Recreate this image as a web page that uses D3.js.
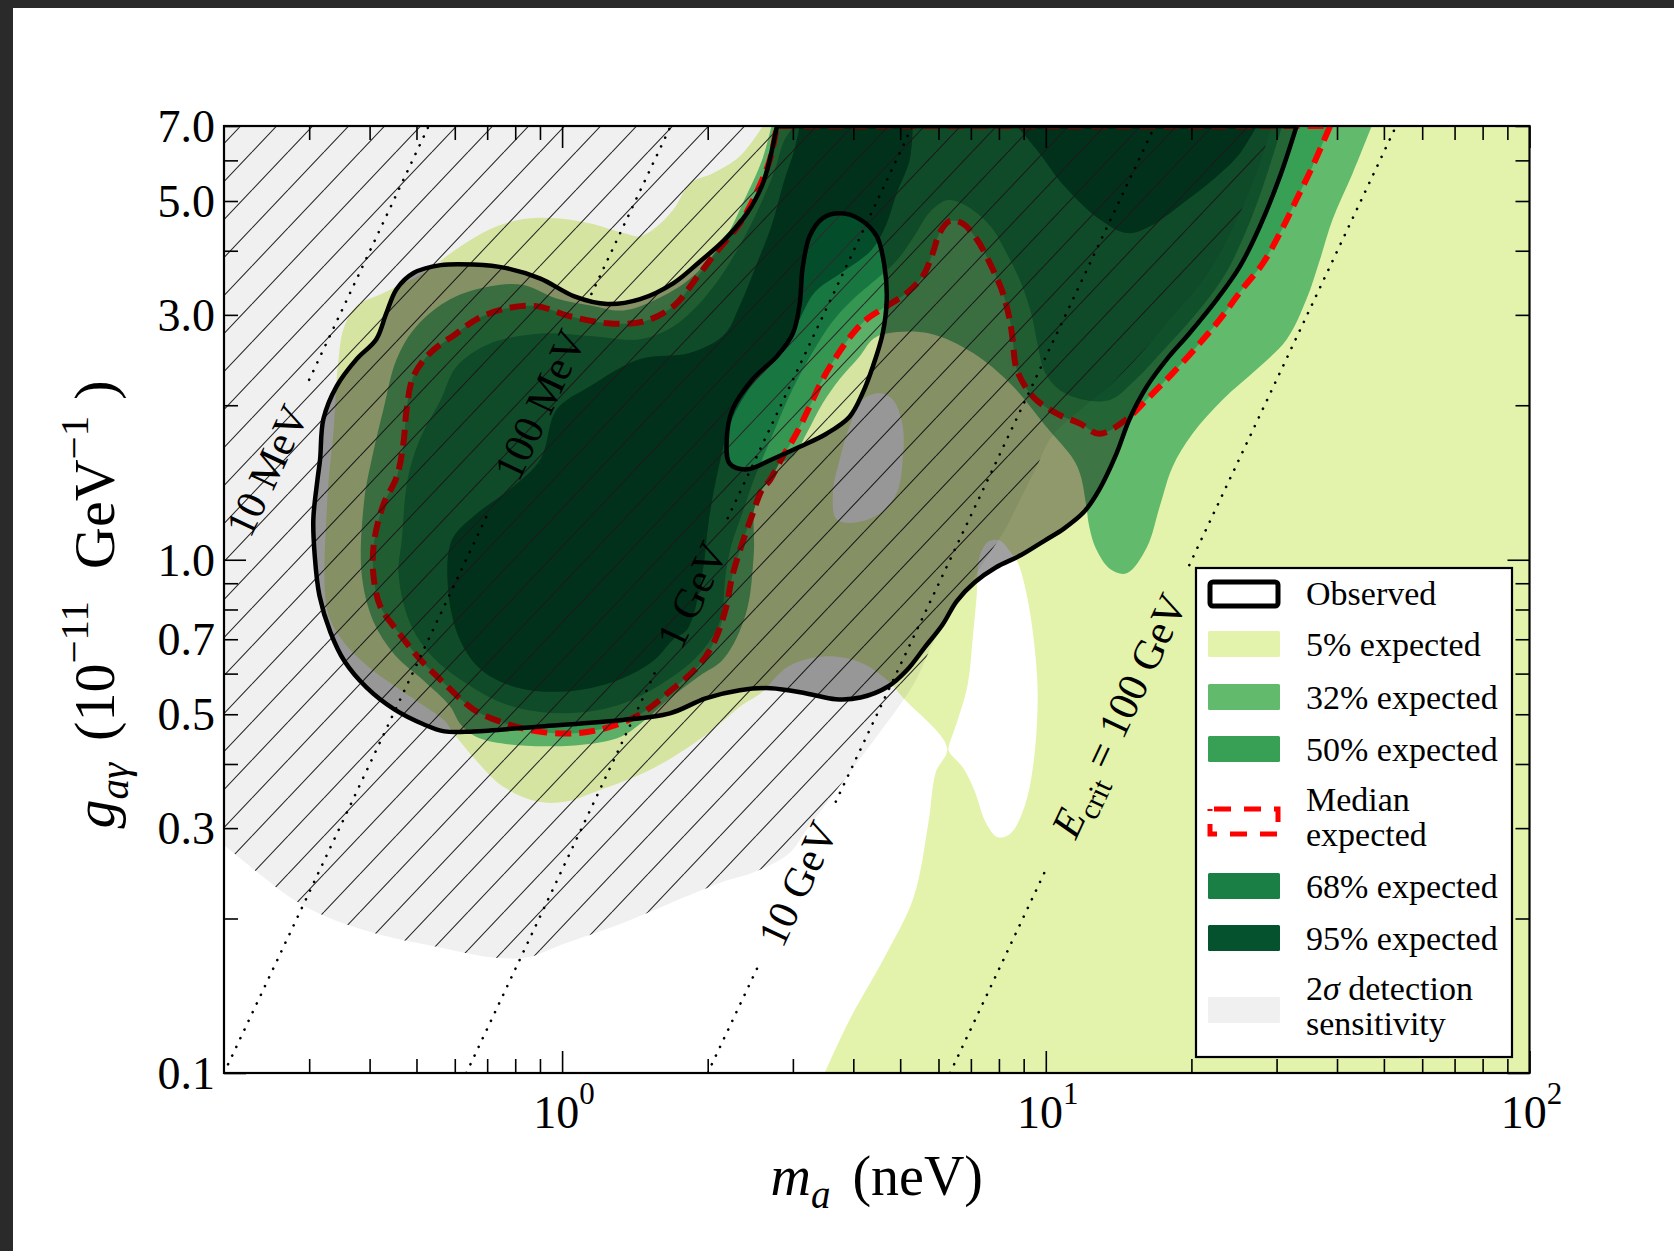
<!DOCTYPE html>
<html>
<head>
<meta charset="utf-8">
<script src="https://cdn.jsdelivr.net/npm/d3@7"></script>
<style>
  body { margin: 0; background: #2a2a2a; }
  svg { display: block; }
  text { font-family: "Liberation Serif", "Times New Roman", serif; fill: #000; }
</style>
</head>
<body>
<svg id="chart" width="1674" height="1251"></svg>
<script>
// ALP coupling vs mass exclusion plot
var width = 1674;
var height = 1251;

// axis ticks
var xMajorTicks = [1, 10, 100];
var xMinorTicks = [0.3, 0.4, 0.5, 0.6, 0.7, 0.8, 0.9, 2, 3, 4, 5, 6, 7, 8, 9, 20, 30, 40, 50, 60, 70, 80, 90];
var yLabelTicks = [0.1, 0.3, 0.5, 0.7, 1.0, 3.0, 5.0, 7.0];
var yMajorTicks = [0.1, 1];
var yMinorTicks = [0.2, 0.3, 0.4, 0.5, 0.6, 0.7, 0.8, 0.9, 2, 3, 4, 5, 6, 7];

// contour outlines, points are [m_a (neV), g (1e-11 GeV^-1)]
// 5% expected: curve runs from the bottom edge round to the top edge, then the plot corners close it
var expected5 = [[3.49,0.1],[3.93,0.127],[4.67,0.170],[5.33,0.220],[5.72,0.308],[5.92,0.385],[6.25,0.430],
  [5.08,0.537],[4.73,0.580],[4.14,0.631],[3.49,0.648],[2.94,0.620],[2.57,0.549],[2.35,0.520],[1.98,0.455],
  [1.54,0.392],[1.19,0.355],[1.02,0.338],[0.89,0.338],[0.753,0.362],[0.656,0.412],[0.593,0.463],[0.571,0.486],
  [0.517,0.520],[0.468,0.554],[0.394,0.623],[0.350,0.700],[0.327,0.797],[0.327,1.31],[0.337,1.79],[0.342,2.25],
  [0.345,2.46],[0.353,2.81],[0.376,3.12],[0.427,3.31],[0.517,3.62],[0.605,4.03],[0.711,4.41],[0.832,4.61],
  [0.974,4.63],[1.145,4.52],[1.34,4.33],[1.45,4.27],[1.57,4.46],[1.70,4.82],[1.84,5.41],[2.05,5.66],[2.33,6.11],[2.6,7]];
var expected5Corners = [[100, 7], [100, 0.1]];

// white gaps inside the 5% region
var gapNotch = [[6.30,0.432],[6.54,0.480],[6.89,0.569],[7.06,0.700],[7.20,0.856],[7.30,1.015],[7.62,1.086],[8.03,1.09],
  [8.46,1.034],[8.75,0.988],[9.13,0.856],[9.44,0.700],[9.62,0.549],[9.44,0.405],[9.04,0.331],[8.46,0.293],[7.95,0.288],
  [7.51,0.308],[7.13,0.354],[6.76,0.392],[6.30,0.424]];
var gapCentre = [[4.54,2.11],[4.83,2.05],[5.06,1.82],[5.06,1.57],[4.92,1.35],[4.54,1.23],[3.99,1.18],[3.69,1.20],
  [3.63,1.35],[3.75,1.57],[3.93,1.82],[4.18,2.05]];

// 32% expected (closed along the top edge)
var expected32 = [[47.2,7],[43.1,5.66],[39.2,4.61],[36.9,3.85],[34.6,3.22],[31.5,2.69],[27.3,2.35],[23.2,2.05],[20.1,1.76],
  [18.3,1.52],[17.2,1.27],[16.2,1.06],[14.7,0.941],[13.6,0.958],[12.7,1.05],[12.3,1.16],[12.1,1.29],[11.8,1.46],[11.4,1.57],
  [10.0,1.82],[8.54,2.18],[7.06,2.53],[5.75,2.76],[4.69,2.76],[4.39,2.69],[4.12,2.49],[3.75,2.25],[3.46,2.02],[3.20,1.76],
  [3.00,1.59],[2.71,1.51],[2.51,1.31],[2.49,1.02],[2.40,0.786],[2.16,0.642],[1.92,0.593],[1.67,0.537],[1.48,0.486],
  [1.30,0.449],[0.920,0.433],[0.675,0.449],[0.619,0.476],[0.585,0.520],[0.517,0.582],[0.450,0.654],[0.407,0.759],
  [0.385,0.941],[0.390,1.31],[0.404,1.57],[0.427,1.96],[0.455,2.46],[0.500,2.85],[0.588,3.22],[0.711,3.41],[0.832,3.43],
  [0.974,3.23],[1.145,3.13],[1.34,3.06],[1.57,3.22],[1.84,3.53],[2.16,4.19],[2.38,5.02],[2.59,6.00],[2.71,7]];

// median expected = 50% contour (closed along the top edge)
var median50 = [[38.7,7],[35.6,5.84],[33.0,5.04],[30.8,4.41],[28.1,3.78],[25.5,3.37],[22.9,2.94],[20.8,2.64],[18.3,2.31],
  [16.4,2.08],[14.7,1.88],[12.9,1.76],[11.8,1.84],[10.5,1.93],[9.40,2.08],[8.71,2.35],[8.54,2.69],[8.42,2.94],[8.15,3.31],
  [7.77,3.68],[7.20,4.21],[6.73,4.52],[6.33,4.57],[6.03,4.33],[5.84,3.96],[5.57,3.57],[5.16,3.31],[4.69,3.12],[4.26,2.94],
  [3.99,2.76],[3.69,2.49],[3.46,2.25],[3.25,1.99],[3.05,1.76],[2.86,1.59],[2.69,1.43],[2.59,1.37],[2.47,1.22],[2.36,1.08],
  [2.25,0.932],[2.18,0.804],[2.07,0.697],[1.92,0.623],[1.67,0.554],[1.46,0.502],[1.25,0.472],[1.06,0.459],[0.890,0.463],
  [0.753,0.482],[0.656,0.511],[0.571,0.574],[0.507,0.642],[0.459,0.722],[0.421,0.811],[0.407,0.941],[0.409,1.09],
  [0.427,1.28],[0.455,1.45],[0.470,1.69],[0.477,1.96],[0.493,2.28],[0.534,2.53],[0.605,2.76],[0.665,2.94],[0.757,3.08],
  [0.885,3.12],[1.04,2.98],[1.24,2.89],[1.47,2.91],[1.70,3.12],[1.90,3.55],[2.09,3.99],[2.33,4.52],[2.52,5.18],[2.69,6.03],[2.78,7]];

// 68% expected (closed along the top edge)
var expected68 = [[30.8,7],[28.4,5.49],[26.0,4.39],[23.4,3.58],[20.3,2.99],[17.5,2.56],[15.3,2.24],[13.6,2.05],[12.0,2.05],
  [10.7,2.14],[9.95,2.32],[9.62,2.62],[9.35,2.99],[8.92,3.43],[8.34,3.92],[7.66,4.48],[6.80,4.91],[6.27,5.02],[5.75,4.75],
  [5.36,4.29],[4.92,3.83],[4.43,3.50],[3.97,3.20],[3.61,2.90],[3.33,2.58],[3.10,2.29],[2.91,2.03],[2.75,1.79],[2.60,1.58],
  [2.47,1.40],[2.35,1.22],[2.24,1.07],[2.18,0.941],[2.12,0.759],[1.92,0.654],[1.61,0.574],[1.30,0.520],[1.00,0.502],
  [0.778,0.520],[0.634,0.574],[0.534,0.654],[0.483,0.759],[0.459,0.941],[0.466,1.09],[0.479,1.43],[0.507,1.71],[0.561,2.05],
  [0.605,2.38],[0.711,2.64],[0.902,2.76],[1.145,2.73],[1.45,2.69],[1.70,2.85],[1.90,3.12],[2.10,3.50],[2.30,4.01],[2.54,4.80],
  [2.75,5.74],[2.88,6.57],[3.02,7]];

// 95% expected, two cores (closed along the top edge)
var core95a = [[5.31,7],[5.23,6.00],[4.92,5.18],[4.67,4.48],[4.36,4.01],[3.84,3.66],[3.33,3.32],[3.05,2.86],[2.76,2.47],
  [2.47,2.19],[2.24,1.87],[2.10,1.49],[2.01,1.19],[1.95,0.941],[1.82,0.735],[1.70,0.700],[1.54,0.634],[1.30,0.582],[1.02,0.554],
  [0.805,0.564],[0.678,0.612],[0.614,0.700],[0.582,0.864],[0.591,1.09],[0.659,1.22],[0.778,1.37],[0.902,1.57],[0.974,1.96],
  [1.145,2.18],[1.45,2.46],[1.84,2.53],[2.16,2.74],[2.33,3.13],[2.52,3.75],[2.71,4.48],[2.88,5.49],[3.02,6.28],[3.10,7]];
var core95b = [[27.3,7],[25.2,6.19],[22.6,5.59],[19.2,4.95],[16.4,4.46],[14.7,4.33],[12.9,4.61],[10.8,5.41],[9.71,6.19],[8.71,7]];

// observed exclusion: outer line (closed along the top edge) and the island inside it
var observedOuter = [[33.0,7],[30.5,5.59],[27.7,4.46],[25.2,3.73],[22.6,3.22],[19.8,2.76],[17.8,2.46],[16.2,2.18],[14.9,1.88],
  [14.0,1.61],[12.9,1.37],[12.0,1.24],[10.9,1.15],[9.95,1.09],[8.87,1.02],[7.88,0.966],[7.13,0.904],[6.54,0.830],[6.12,0.748],
  [5.62,0.675],[5.16,0.609],[4.73,0.567],[4.14,0.539],[3.68,0.535],[3.20,0.549],[2.70,0.562],[2.33,0.557],[1.98,0.537],
  [1.67,0.502],[1.30,0.486],[0.920,0.474],[0.656,0.463],[0.571,0.463],[0.517,0.478],[0.450,0.511],[0.394,0.564],[0.355,0.634],
  [0.332,0.722],[0.315,0.852],[0.308,1.02],[0.306,1.20],[0.312,1.43],[0.316,1.57],[0.321,1.88],[0.342,2.18],[0.376,2.46],
  [0.413,2.69],[0.433,3.02],[0.455,3.37],[0.493,3.62],[0.561,3.75],[0.656,3.76],[0.767,3.70],[0.902,3.53],[1.06,3.26],
  [1.24,3.15],[1.45,3.22],[1.70,3.46],[1.92,3.80],[2.16,4.19],[2.41,4.73],[2.60,5.41],[2.78,7]];
var observedIsland = [[3.75,4.73],[4.12,4.61],[4.47,4.27],[4.64,3.73],[4.69,3.22],[4.60,2.76],[4.39,2.38],[4.18,2.11],[3.93,1.90],
  [3.52,1.76],[3.10,1.66],[2.72,1.57],[2.41,1.50],[2.22,1.54],[2.19,1.72],[2.25,1.96],[2.48,2.25],[2.78,2.49],[3.00,2.76],
  [3.10,3.16],[3.14,3.68],[3.25,4.27],[3.46,4.63]];

// 2 sigma detection sensitivity (hatched), closed through the top-left corner
var sensitivity = [[29.3,7],[27.4,5.74],[25.2,4.73],[23.1,4.01],[20.8,3.43],[18.0,2.93],[15.6,2.50],[13.6,2.19],[11.8,1.96],
  [10.3,1.74],[9.49,1.49],[8.75,1.28],[8.22,1.14],[7.48,0.997],[6.64,0.834],[5.89,0.697],[5.33,0.572],[4.67,0.478],[3.93,0.385],
  [3.20,0.297],[2.95,0.268],[2.49,0.246],[2.16,0.236],[1.67,0.214],[1.30,0.194],[1.00,0.178],[0.848,0.168],[0.715,0.168],
  [0.553,0.176],[0.429,0.185],[0.332,0.200],[0.280,0.217],[0.237,0.244],[0.2,0.278]];
var sensitivityCorners = [[0.2, 7]];

// E_crit guide lines
var ecritNames = ['10 MeV', '100 MeV', '1 GeV', '10 GeV', '100 GeV'];
var ecritLow = [[0.2,0.996],[0.2,0.1],[0.634,0.1],[2.0,0.1],[6.34,0.1]];
var ecritHigh = [[0.530,7],[1.677,7],[5.30,7],[16.8,7],[53.0,7]];
var ecritGap = [[0.2,0.30],[0.70,1.15],[1.56,2.20],[2.55,3.68],[10.1,19.8]];

// colours
var c5 = '#e3f3ab', c32 = '#62ba6d', c50 = '#38a055', c68 = '#1a7f45', c95 = '#04522e', c2s = '#f0f0f0';

// legend
var legendLabels = [['Observed'], ['5% expected'], ['32% expected'], ['50% expected'], ['Median', 'expected'],
  ['68% expected'], ['95% expected'], ['2\u03c3 detection', 'sensitivity']];
var legendKinds = ['line', 'fill', 'fill', 'fill', 'dash', 'fill', 'fill', 'fill'];
var legendColors = ['#000', c5, c32, c50, '#ff0000', c68, c95, c2s];

// ---------------------------------------------------------------
var svg = d3.select('#chart');
svg.append('rect').attr('width', width).attr('height', height).attr('fill', '#2a2a2a');
svg.append('rect').attr('x', 13).attr('y', 8).attr('width', width - 13).attr('height', height - 8).attr('fill', '#fff');

var plotLeft = 224, plotRight = 1529.5, plotTop = 126, plotBottom = 1073;
var x = d3.scaleLog().domain([0.2, 100]).range([plotLeft, plotRight]);
var y = d3.scaleLog().domain([0.1, 7]).range([plotBottom, plotTop]);

var defs = svg.append('defs');
defs.append('clipPath').attr('id', 'plotClip')
  .append('rect').attr('x', plotLeft).attr('y', plotTop)
  .attr('width', plotRight - plotLeft).attr('height', plotBottom - plotTop);

var hatch = defs.append('pattern').attr('id', 'hatch')
  .attr('patternUnits', 'userSpaceOnUse').attr('width', 36).attr('height', 38);
hatch.append('path')
  .attr('d', 'M-36,38L0,0M0,38L36,0M36,38L72,0')
  .attr('stroke', '#2a2a2a').attr('stroke-width', 1.1);

var openLine = d3.line().x(function(d){ return x(d[0]); }).y(function(d){ return y(d[1]); })
  .curve(d3.curveCatmullRom.alpha(0.5));
var closedLine = d3.line().x(function(d){ return x(d[0]); }).y(function(d){ return y(d[1]); })
  .curve(d3.curveCatmullRomClosed.alpha(0.5));

// curve through the points, then straight along the plot edges
var edgeShape = function(points, corners) {
  var p = openLine(points);
  (corners || []).forEach(function(c) { p += 'L' + x(c[0]) + ',' + y(c[1]); });
  return p + 'Z';
};

var plot = svg.append('g').attr('clip-path', 'url(#plotClip)');

// FILLED CONTOURS
plot.append('path').attr('d', edgeShape(expected5, expected5Corners)).attr('fill', c5);
plot.append('path').attr('d', closedLine(gapNotch)).attr('fill', '#fff');
plot.append('path').attr('d', closedLine(gapCentre)).attr('fill', '#fff');
plot.append('path').attr('d', edgeShape(expected32)).attr('fill', c32);
plot.append('path').attr('d', edgeShape(median50)).attr('fill', c50);
plot.append('path').attr('d', edgeShape(expected68)).attr('fill', c68);
plot.append('path').attr('d', edgeShape(core95a)).attr('fill', c95);
plot.append('path').attr('d', edgeShape(core95b)).attr('fill', c95);

// MEDIAN line
plot.append('path').attr('d', edgeShape(median50))
  .attr('fill', 'none').attr('stroke', '#ff0000').attr('stroke-width', 6)
  .attr('stroke-dasharray', '16,8');

// SENSITIVITY region: light grey plus hatching
var sensPath = edgeShape(sensitivity, sensitivityCorners);
plot.append('path').attr('d', sensPath).attr('fill', '#000').attr('fill-opacity', 0.06);
plot.append('path').attr('d', sensPath).attr('fill', 'url(#hatch)');

// OBSERVED region
var obsPath = edgeShape(observedOuter) + closedLine(observedIsland);
plot.append('path').attr('d', obsPath).attr('fill', '#000').attr('fill-opacity', 0.37)
  .attr('fill-rule', 'evenodd');
plot.append('path').attr('d', obsPath).attr('fill', 'none').attr('stroke', '#000')
  .attr('stroke-width', 4.5).attr('stroke-linejoin', 'round');

// E_CRIT lines
var onLine = function(i, m) {
  var a = ecritLow[i], b = ecritHigh[i];
  var t = (Math.log(m) - Math.log(a[0])) / (Math.log(b[0]) - Math.log(a[0]));
  return [m, Math.exp(Math.log(a[1]) + t * (Math.log(b[1]) - Math.log(a[1])))];
};
var straight = d3.line().x(function(d){ return x(d[0]); }).y(function(d){ return y(d[1]); });

ecritNames.forEach(function(name, i) {
  var gap = ecritGap[i];
  var segs = [];
  if (gap[0] > ecritLow[i][0] * 1.01) segs.push([ecritLow[i], onLine(i, gap[0])]);
  segs.push([onLine(i, gap[1]), ecritHigh[i]]);
  segs.forEach(function(s) {
    plot.append('path').attr('d', straight(s)).attr('fill', 'none')
      .attr('stroke', '#000').attr('stroke-width', 2.6)
      .attr('stroke-dasharray', '0.1,9.5').attr('stroke-linecap', 'round');
  });
  var mid = onLine(i, Math.sqrt(gap[0] * gap[1]));
  var ang = Math.atan2(y(ecritHigh[i][1]) - y(ecritLow[i][1]), x(ecritHigh[i][0]) - x(ecritLow[i][0])) * 180 / Math.PI;
  var t = plot.append('text')
    .attr('transform', 'translate(' + x(mid[0]) + ',' + y(mid[1]) + ') rotate(' + ang + ')')
    .attr('text-anchor', 'middle').attr('dy', '0.35em').attr('font-size', 42);
  if (i === ecritNames.length - 1) {
    t.append('tspan').attr('font-style', 'italic').text('E');
    t.append('tspan').attr('font-size', 30).attr('dy', 10).text('crit');
    t.append('tspan').attr('dy', -10).text(' = ' + name);
  } else {
    t.text(name);
  }
});

// AXES
var axes = svg.append('g');
var tidy = function(g) {
  g.select('.domain').remove();
  g.selectAll('line').attr('stroke', '#000').attr('stroke-width', 1.6);
};
axes.append('g').attr('transform', 'translate(0,' + plotBottom + ')')
  .call(d3.axisBottom(x).tickValues(xMajorTicks).tickSize(-22).tickFormat('')).call(tidy);
axes.append('g').attr('transform', 'translate(0,' + plotBottom + ')')
  .call(d3.axisBottom(x).tickValues(xMinorTicks).tickSize(-14).tickFormat('')).call(tidy);
axes.append('g').attr('transform', 'translate(0,' + plotTop + ')')
  .call(d3.axisTop(x).tickValues(xMajorTicks).tickSize(-22).tickFormat('')).call(tidy);
axes.append('g').attr('transform', 'translate(0,' + plotTop + ')')
  .call(d3.axisTop(x).tickValues(xMinorTicks).tickSize(-14).tickFormat('')).call(tidy);

var yLeft = axes.append('g').attr('transform', 'translate(' + plotLeft + ',0)')
  .call(d3.axisLeft(y).tickValues(yLabelTicks).tickSize(0).tickPadding(9).tickFormat(d3.format('.1f')))
  .call(tidy);
yLeft.attr('font-family', '"Liberation Serif", serif').attr('font-size', 46);
yLeft.selectAll('text').attr('fill', '#000').attr('dy', '0.34em');
yLeft.selectAll('line').remove();
[[yMajorTicks, -22], [yMinorTicks, -14]].forEach(function(set) {
  axes.append('g').attr('transform', 'translate(' + plotLeft + ',0)')
    .call(d3.axisLeft(y).tickValues(set[0]).tickSize(set[1]).tickFormat('')).call(tidy);
  axes.append('g').attr('transform', 'translate(' + plotRight + ',0)')
    .call(d3.axisRight(y).tickValues(set[0]).tickSize(set[1]).tickFormat('')).call(tidy);
});

xMajorTicks.forEach(function(v) {
  var t = axes.append('text').attr('x', x(v) + 2).attr('y', 1128)
    .attr('text-anchor', 'middle').attr('font-size', 46);
  t.append('tspan').text('10');
  t.append('tspan').attr('dy', -24).attr('font-size', 31).text(Math.round(Math.log10(v)));
});

axes.append('rect').attr('x', plotLeft).attr('y', plotTop)
  .attr('width', plotRight - plotLeft).attr('height', plotBottom - plotTop)
  .attr('fill', 'none').attr('stroke', '#000').attr('stroke-width', 2.2);

// axis titles
var xt = axes.append('text').attr('x', (plotLeft + plotRight) / 2).attr('y', 1195)
  .attr('text-anchor', 'middle').attr('font-size', 56);
xt.append('tspan').attr('font-style', 'italic').text('m');
xt.append('tspan').attr('font-style', 'italic').attr('font-size', 39).attr('dy', 13).text('a');
xt.append('tspan').attr('dy', -13).attr('dx', 22).text('(neV)');

var yt = axes.append('text')
  .attr('transform', 'translate(114,' + ((plotTop + plotBottom) / 2 + 5) + ') rotate(-90)')
  .attr('text-anchor', 'middle').attr('font-size', 58);
yt.append('tspan').attr('font-style', 'italic').text('g');
yt.append('tspan').attr('font-style', 'italic').attr('font-size', 41).attr('dy', 14).text('a\u03b3');
yt.append('tspan').attr('dy', -14).attr('dx', 22).text('(10');
yt.append('tspan').attr('font-size', 41).attr('dy', -26).text('\u221211');
yt.append('tspan').attr('dy', 26).attr('dx', 32).text('GeV');
yt.append('tspan').attr('font-size', 41).attr('dy', -26).text('\u22121');
yt.append('tspan').attr('dy', 26).attr('dx', 16).text(')');

// LEGEND
var legend = svg.append('g');
legend.append('rect').attr('x', 1196).attr('y', 568).attr('width', 316).attr('height', 489)
  .attr('fill', '#fff').attr('stroke', '#000').attr('stroke-width', 2.2);
var rowY = [593, 644, 697, 749, 821, 886, 938, 1010];
legendLabels.forEach(function(lines, i) {
  var cy = rowY[i];
  if (legendKinds[i] === 'line') {
    legend.append('rect').attr('x', 1210).attr('y', cy - 11).attr('width', 68).attr('height', 24).attr('rx', 3)
      .attr('fill', '#fff').attr('stroke', legendColors[i]).attr('stroke-width', 5);
  } else if (legendKinds[i] === 'dash') {
    legend.append('rect').attr('x', 1210).attr('y', cy - 12).attr('width', 68).attr('height', 25)
      .attr('fill', 'none').attr('stroke', legendColors[i]).attr('stroke-width', 5)
      .attr('stroke-dasharray', '17,13').attr('stroke-dashoffset', -4);
  } else {
    legend.append('rect').attr('x', 1208).attr('y', cy - 13).attr('width', 72).attr('height', 26).attr('rx', 1.5)
      .attr('fill', legendColors[i]);
  }
  lines.forEach(function(line, k) {
    var by = lines.length === 1 ? cy + 12 : cy - 10 + k * 35;
    var t = legend.append('text').attr('x', 1306).attr('y', by).attr('font-size', 34);
    if (line.indexOf('\u03c3') >= 0) {
      t.append('tspan').text('2');
      t.append('tspan').attr('font-style', 'italic').text('\u03c3');
      t.append('tspan').text(line.slice(2));
    } else {
      t.text(line);
    }
  });
});
</script>
</body>
</html>
